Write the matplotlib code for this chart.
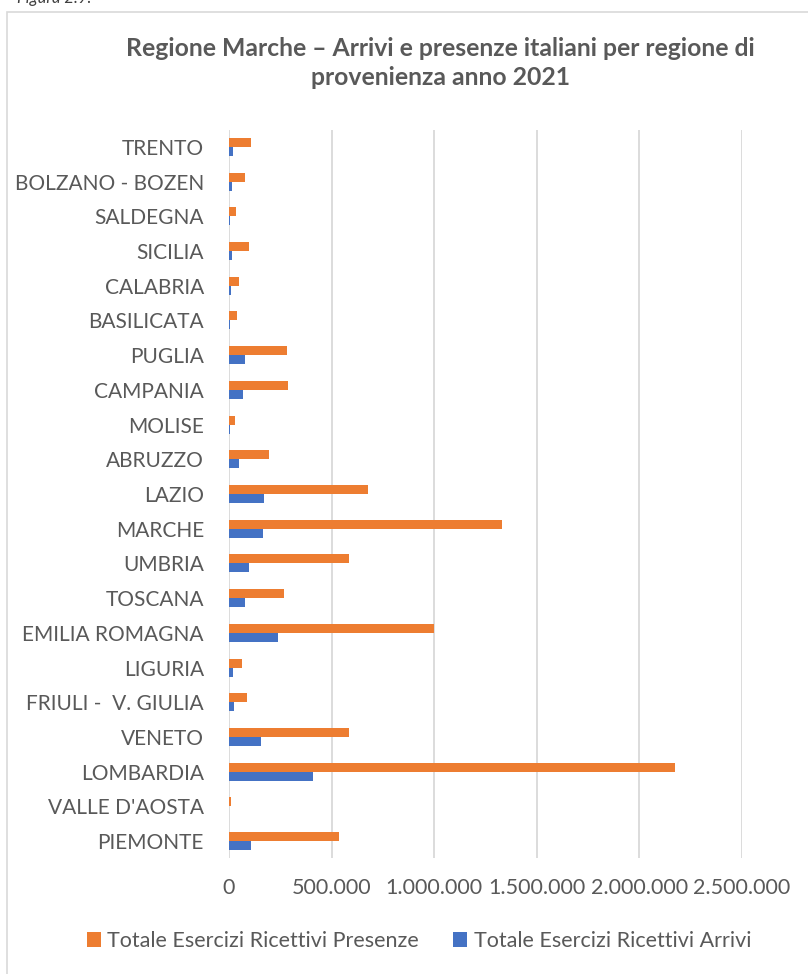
"""
Regione Marche - arrivi e presenze italiani per regione di provenienza, 2021.
"""

import matplotlib.pyplot as plt
import numpy as np
from matplotlib.patches import Rectangle
from matplotlib.ticker import FuncFormatter

# Regions, listed bottom to top as they appear on the chart
regions = ['PIEMONTE', "VALLE D'AOSTA", 'LOMBARDIA', 'VENETO', 'FRIULI -  V. GIULIA',
           'LIGURIA', 'EMILIA ROMAGNA', 'TOSCANA', 'UMBRIA', 'MARCHE', 'LAZIO',
           'ABRUZZO', 'MOLISE', 'CAMPANIA', 'PUGLIA', 'BASILICATA', 'CALABRIA',
           'SICILIA', 'SALDEGNA', 'BOLZANO - BOZEN', 'TRENTO']

presenze = [535000, 9000, 2172000, 587000, 89000, 65000, 997000, 266000, 586000,
            1330000, 675000, 195000, 29000, 287000, 284000, 39000, 49000, 99000,
            32000, 78000, 106000]
arrivi = [108000, 1500, 410000, 154000, 24000, 18000, 240000, 79000, 99000,
          164000, 172000, 50000, 3000, 70000, 76000, 5000, 8000, 16000,
          3000, 13000, 18000]

x_ticks = [0, 500000, 1000000, 1500000, 2000000, 2500000]

title = 'Regione Marche – Arrivi e presenze italiani per regione di\nprovenienza anno 2021'

orange = '#ED7D31'
blue = '#4472C4'
grey_text = '#595959'
grid_grey = '#D9D9D9'

plt.rcParams['font.family'] = ['Lato', 'DejaVu Sans']

W, H = 808, 974
fig = plt.figure(figsize=(W / 100, H / 100), dpi=100)

# Chart frame (partly cut by the page crop)
fig.patches.append(Rectangle((7 / W, -0.02), 1.0, 1 - 12 / H + 0.02,
                             transform=fig.transFigure, fill=False,
                             edgecolor=grid_grey, linewidth=1.2))
# caption above the frame, cut by the crop as in the source page
fig.text(17 / W, 1 - 3 / H, 'Figura 2.9.', fontsize=12, style='italic',
         color='#404040', va='baseline', ha='left')

# Plot area position in pixels
left, right, top, bottom = 229, 742, 129.6, 858.4
ax = fig.add_axes([left / W, 1 - bottom / H, (right - left) / W, (bottom - top) / H])

y = np.arange(len(regions))
h = 0.26
ax.barh(y + h / 2, presenze, h, color=orange, label='Totale Esercizi Ricettivi Presenze')
ax.barh(y - h / 2, arrivi, h, color=blue, label='Totale Esercizi Ricettivi Arrivi')

ax.set_xlim(0, 2500000)
ax.set_ylim(-0.5, len(regions) - 0.5)
ax.set_yticks(y)
ax.set_yticklabels(regions)
ax.set_xticks(x_ticks)
ax.xaxis.set_major_formatter(FuncFormatter(lambda v, p: f'{int(v):,}'.replace(',', '.')))

ax.grid(axis='x', color=grid_grey, linewidth=1.3)
ax.set_axisbelow(True)
for s in ax.spines.values():
    s.set_visible(False)
ax.tick_params(axis='y', length=0, pad=18, labelsize=15, labelcolor=grey_text)
ax.tick_params(axis='x', length=0, pad=14, labelsize=15.5, labelcolor=grey_text)

fig.text(440 / W, 1 - 63 / H, title, ha='center', va='center', fontsize=17.8,
         fontweight='bold', color=grey_text, linespacing=1.3)

fig.legend(loc='center', bbox_to_anchor=(419 / W, 1 - 941 / H), ncol=2,
           frameon=False, fontsize=15.5, labelcolor=grey_text,
           handlelength=0.65, handleheight=0.65, handletextpad=0.3,
           columnspacing=1.6)

fig.savefig('out.png', dpi=100)
